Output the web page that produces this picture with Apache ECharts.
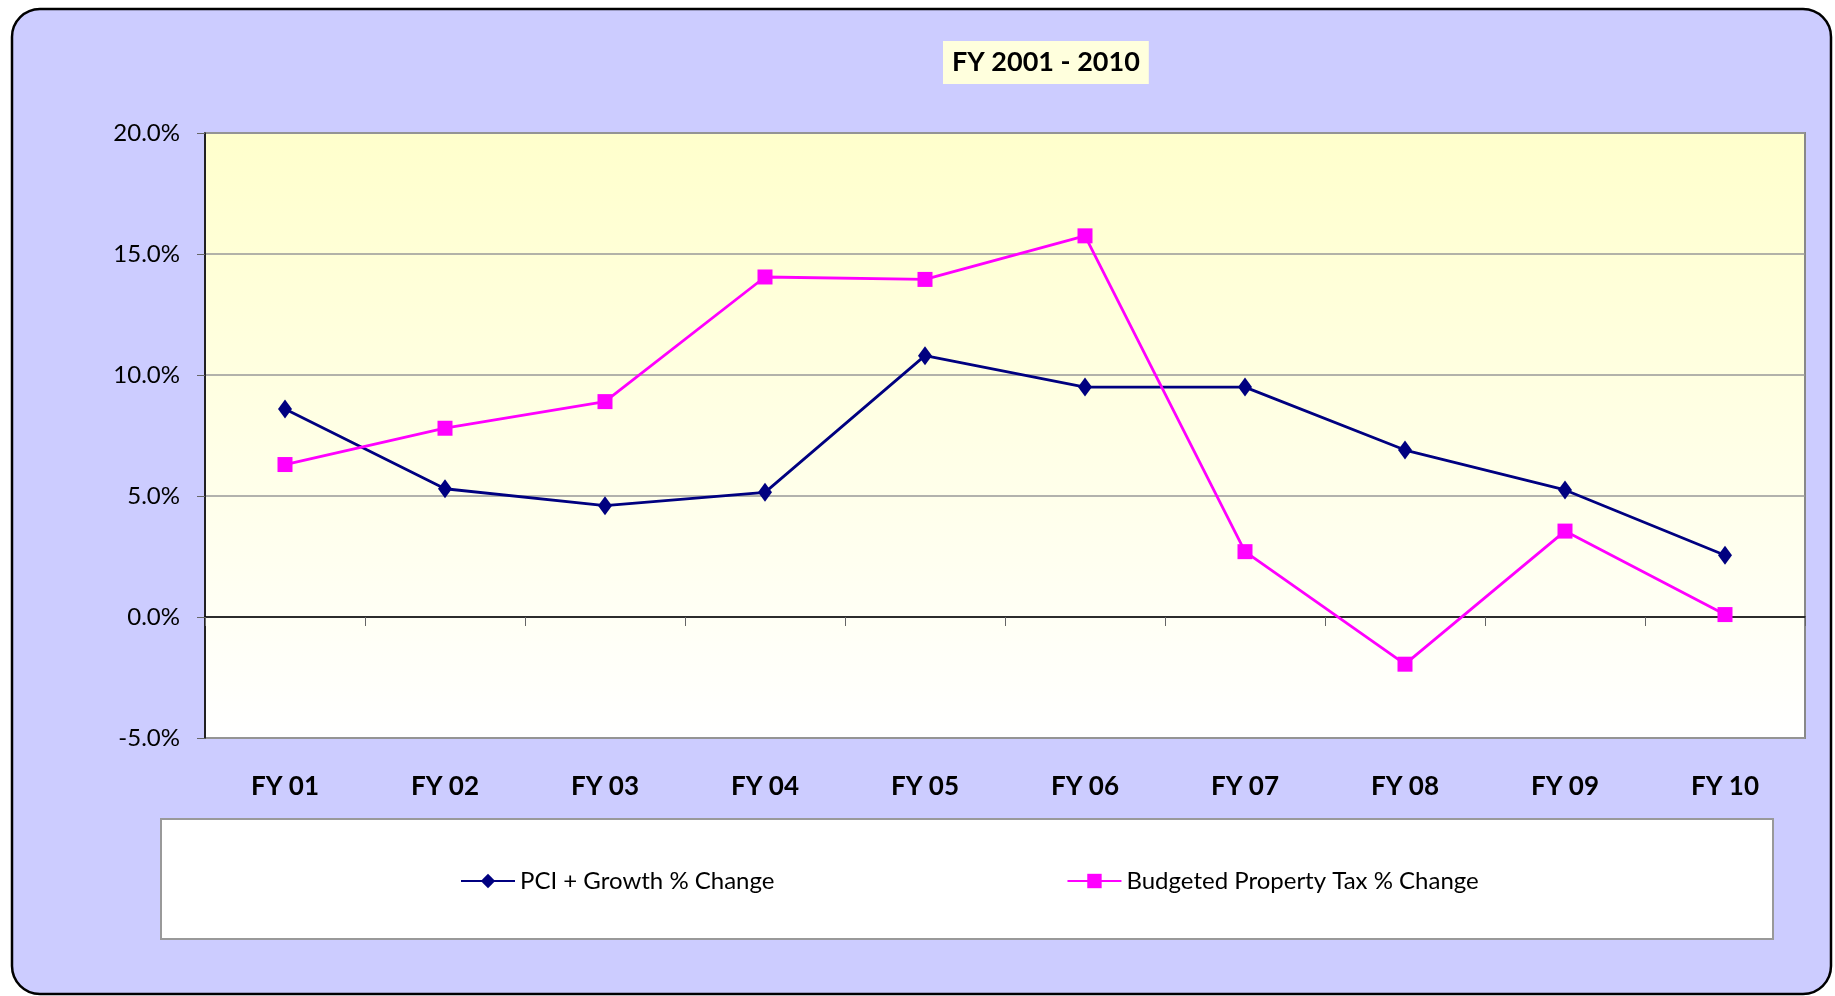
<!DOCTYPE html>
<html>
<head>
<meta charset="utf-8">
<script src="https://cdn.jsdelivr.net/npm/echarts@6/dist/echarts.min.js"></script>
<style>
html,body{margin:0;padding:0;background:#fff;}
#c{width:1835px;height:996px;}
</style>
</head>
<body>
<div id="c"></div>
<script>
const categories = ['FY 01','FY 02','FY 03','FY 04','FY 05','FY 06','FY 07','FY 08','FY 09','FY 10'];
const pciGrowth = [8.6, 5.3, 4.6, 5.15, 10.8, 9.5, 9.5, 6.9, 5.25, 2.55];
const propertyTax = [6.3, 7.8, 8.9, 14.05, 13.95, 15.75, 2.7, -1.95, 3.55, 0.1];
const seriesNames = ['PCI + Growth % Change', 'Budgeted Property Tax % Change'];
const titleText = 'FY 2001 - 2010';

const chart = echarts.init(document.getElementById('c'));
const font = 'Lato, "Open Sans", sans-serif';
chart.setOption({
  animation: false,
  graphic: [
    {type:'rect', z:-10, shape:{x:12,y:9,width:1819,height:985,r:28}, style:{fill:'#CCCCFF', stroke:'#000', lineWidth:2.5}},
    {type:'rect', z:-10, shape:{x:161,y:819,width:1612,height:120}, style:{fill:'#FFFFFF', stroke:'#999', lineWidth:2}}
  ],
  title: {
    text: titleText,
    left: 943, top: 41,
    padding: [8, 9, 8, 9],
    backgroundColor: '#FFFFDD',
    textStyle: {fontFamily: font, fontWeight: 'bold', fontSize: 27, color: '#000'}
  },
  legend: {
    left: 455, top: 864,
    itemWidth: 54, itemHeight: 18, itemGap: 292,
    textStyle: {fontFamily: font, fontSize: 24, color: '#000'},
    data: seriesNames
  },
  grid: {
    left: 205, top: 133, width: 1600, height: 605,
    show: true,
    backgroundColor: {type:'linear', x:0, y:0, x2:0, y2:1, colorStops:[{offset:0,color:'#FFFFCC'},{offset:1,color:'#FFFFFF'}]},
    borderColor: '#888', borderWidth: 2
  },
  xAxis: [
    {
      type: 'category', data: categories, boundaryGap: true, position: 'bottom',
      axisLine: {onZero: true, lineStyle: {color: '#000', width: 1.5}},
      axisTick: {show: true, length: 9, lineStyle: {color: '#666'}},
      axisLabel: {show: false}
    },
    {
      type: 'category', data: categories, boundaryGap: true, position: 'bottom',
      axisLine: {show: false, onZero: false}, axisTick: {show: false},
      axisLabel: {margin: 36, fontFamily: font, fontWeight: 'bold', fontSize: 26, color: '#000'}
    }
  ],
  yAxis: {
    type: 'value', min: -5, max: 20, interval: 5,
    axisLine: {show: true, lineStyle: {color: '#000', width: 1.5}},
    axisTick: {show: true, length: 8, lineStyle: {color: '#666'}},
    splitLine: {show: true, lineStyle: {color: '#999', width: 1.5}},
    axisLabel: {margin: 25, fontFamily: font, fontSize: 24, color: '#000', formatter: v => v.toFixed(1) + '%'}
  },
  series: [
    {
      name: seriesNames[0], type: 'line', data: pciGrowth,
      symbol: 'diamond', symbolSize: [14, 19],
      lineStyle: {color: '#000080', width: 2.8},
      itemStyle: {color: '#000080'}
    },
    {
      name: seriesNames[1], type: 'line', data: propertyTax,
      symbol: 'rect', symbolSize: 15,
      lineStyle: {color: '#FF00FF', width: 2.8},
      itemStyle: {color: '#FF00FF'}
    }
  ]
});
</script>
</body>
</html>
